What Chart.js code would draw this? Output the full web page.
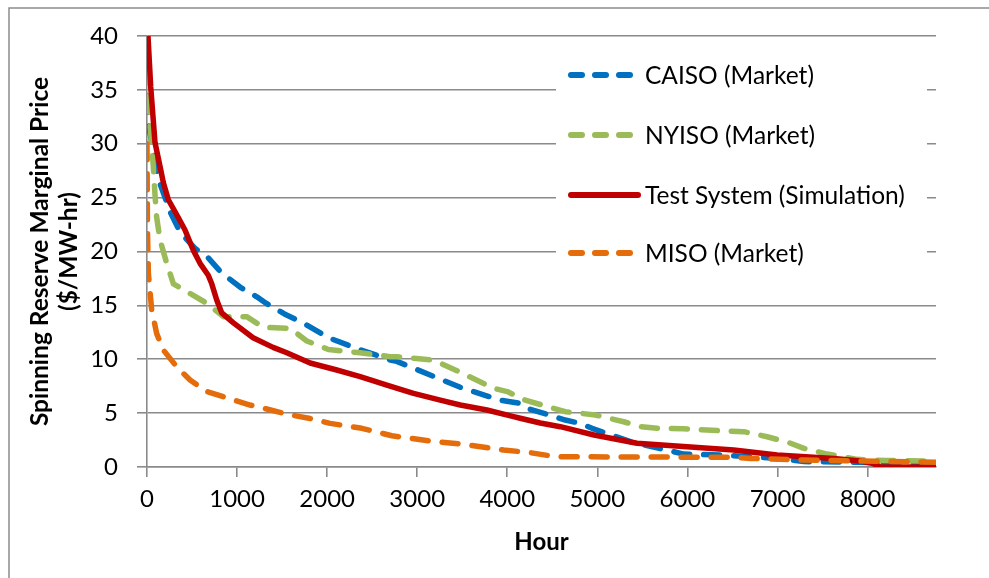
<!DOCTYPE html>
<html>
<head>
<meta charset="utf-8">
<script src="https://cdn.jsdelivr.net/npm/chart.js@4/dist/chart.umd.min.js"></script>
<style>
  html, body { margin: 0; padding: 0; background: #fff; }
  #wrap { width: 989px; height: 578px; position: relative; }
</style>
</head>
<body>
<div id="wrap"><canvas id="c" width="989" height="578"></canvas></div>
<script>
// Spinning reserve price duration curves (hours sorted by price, $/MW-hr)
const caisoHours = [0, 3, 15, 26, 107, 144, 256, 367, 533, 681, 830, 1033, 1219, 1322, 1526, 1748, 2015, 2330, 2700, 2774, 3144, 3478, 3922, 4144, 4219, 4644, 4811, 4941, 5367, 5600, 5959, 6400, 7000, 7293, 7810, 8760];
const caisoPrice = [40, 35.9, 33.4, 31.3, 27.6, 26.3, 23.7, 21.8, 20.3, 19.4, 18.0, 16.7, 15.8, 15.2, 14.2, 13.3, 12.0, 11.0, 9.93, 9.8, 8.54, 7.4, 6.2, 5.9, 5.45, 4.36, 4.05, 3.59, 2.35, 1.9, 1.2, 1.1, 0.8, 0.5, 0.45, 0.35];

const nyisoHours = [0, 15, 26, 52, 70, 90, 107, 144, 219, 293, 478, 663, 848, 1107, 1293, 1589, 1774, 2015, 2367, 2700, 2774, 3181, 3441, 3848, 4000, 4200, 4644, 4978, 5293, 5478, 5663, 5959, 6367, 6626, 6885, 7126, 7293, 7552, 7885, 8200, 8760];
const nyisoPrice = [40, 36, 32.8, 29.7, 27.9, 25.1, 23.2, 21.1, 18.9, 17.0, 16.1, 15.2, 13.95, 13.95, 12.96, 12.87, 11.7, 10.9, 10.6, 10.24, 10.24, 9.93, 8.94, 7.3, 7.0, 6.2, 5.13, 4.83, 4.2, 3.74, 3.6, 3.55, 3.37, 3.28, 2.81, 2.26, 1.73, 1.2, 0.71, 0.6, 0.55];

const testHours = [0, 11, 41, 89, 152, 181, 237, 344, 422, 515, 589, 680, 719, 774, 830, 956, 1178, 1400, 1552, 1811, 2107, 2367, 2663, 2959, 3256, 3478, 3774, 4070, 4144, 4367, 4589, 4963, 5441, 5996, 6515, 6996, 7626, 7922, 8050, 8144, 8760];
const testPrice = [42, 40, 35.3, 30.1, 27.6, 26.4, 24.8, 23.2, 22.0, 20.1, 18.9, 17.8, 17.0, 15.5, 14.3, 13.4, 12.0, 11.1, 10.6, 9.65, 9.0, 8.38, 7.6, 6.84, 6.2, 5.75, 5.29, 4.67, 4.52, 4.08, 3.74, 2.97, 2.2, 1.89, 1.58, 1.11, 0.8, 0.55, 0.35, 0.02, 0];

const misoHours = [0, 5, 15, 52, 107, 181, 330, 478, 663, 904, 1144, 1330, 1552, 1811, 2033, 2385, 2719, 3144, 3515, 3959, 4256, 4500, 4626, 6500, 6700, 7300, 7900, 8760];
const misoPrice = [30, 22, 18.0, 14.6, 12.4, 10.86, 9.3, 8.07, 7.0, 6.37, 5.75, 5.38, 4.9, 4.5, 4.05, 3.59, 2.9, 2.41, 2.1, 1.58, 1.33, 1.0, 0.95, 0.9, 0.8, 0.65, 0.55, 0.45];

const xTicks = [0, 1000, 2000, 3000, 4000, 5000, 6000, 7000, 8000];
const yTicks = [0, 5, 10, 15, 20, 25, 30, 35, 40];

const seriesNames = ['CAISO (Market)', 'NYISO (Market)', 'Test System (Simulation)', 'MISO (Market)'];

const pts = (hs, ps) => hs.map((h, i) => ({ x: h, y: ps[i] }));

const GRID = '#8a8a8a';
const FONT = 'Lato, "Open Sans", sans-serif';
Chart.defaults.font.family = FONT;
Chart.defaults.color = '#000';

const dashed = { borderDash: [16, 14], borderCapStyle: 'round', borderJoinStyle: 'round', borderWidth: 5.5 };

const datasets = [
  Object.assign({ label: seriesNames[0], data: pts(caisoHours, caisoPrice), borderColor: '#0070c0', order: 3 }, dashed),
  Object.assign({ label: seriesNames[1], data: pts(nyisoHours, nyisoPrice), borderColor: '#9bbb59', order: 2 }, dashed),
  { label: seriesNames[2], data: pts(testHours, testPrice), borderColor: '#c00000', borderWidth: 5.5,
    borderCapStyle: 'round', borderJoinStyle: 'round', order: 1 },
  Object.assign({ label: seriesNames[3], data: pts(misoHours, misoPrice), borderColor: '#e46c0a', order: 0 }, dashed)
];

// Outer frame of the chart object
const framePlugin = {
  id: 'frame',
  beforeDraw(chart) {
    const ctx = chart.ctx;
    ctx.save();
    ctx.fillStyle = '#fff';
    ctx.fillRect(0, 0, chart.width, chart.height);
    ctx.strokeStyle = '#8c8c8c';
    ctx.lineWidth = 1.5;
    ctx.strokeRect(9, 8, 1100, 700);
    ctx.restore();
  }
};

// Legend panel inside the plot area
const legendPanel = {
  id: 'legendPanel',
  afterDatasetsDraw(chart) {
    const ctx = chart.ctx;
    ctx.save();
    ctx.fillStyle = '#fff';
    ctx.fillRect(556, 46, 371, 236);
    const rows = [75, 135, 195, 253];
    chart.data.datasets.forEach((ds, i) => {
      const y = rows[i];
      ctx.strokeStyle = ds.borderColor;
      ctx.lineWidth = 6;
      ctx.lineCap = 'round';
      ctx.beginPath();
      if (ds.borderDash) {
        ctx.setLineDash([11, 13]);
        ctx.moveTo(571, y);
        ctx.lineTo(632, y);
      } else {
        ctx.setLineDash([]);
        ctx.moveTo(571, y);
        ctx.lineTo(638, y);
      }
      ctx.stroke();
      ctx.setLineDash([]);
      ctx.fillStyle = '#000';
      ctx.font = '24.5px ' + FONT;
      ctx.textAlign = 'left';
      ctx.textBaseline = 'middle';
      ctx.fillText(ds.label, 645, y + 1);
    });
    ctx.restore();
  }
};

new Chart(document.getElementById('c'), {
  type: 'line',
  data: { datasets },
  plugins: [framePlugin, legendPanel],
  options: {
    responsive: false,
    animation: false,
    layout: { padding: { left: 0, top: 36, right: 53, bottom: 0 } },
    elements: { point: { radius: 0 }, line: { tension: 0 } },
    plugins: { legend: { display: false }, tooltip: { enabled: false } },
    scales: {
      x: {
        type: 'linear',
        min: 0, max: 8760,
        afterBuildTicks(scale) { scale.ticks = xTicks.map(v => ({ value: v })); },
        afterFit(scale) { scale.height = 111; },
        ticks: { font: { size: 24 }, padding: 8, maxRotation: 0, autoSkip: false, callback: v => String(v) },
        grid: { drawOnChartArea: false, drawTicks: true, tickLength: 10, color: GRID, lineWidth: 1.6 },
        border: { display: true, color: GRID, width: 1.6 },
        title: { display: true, text: 'Hour', font: { size: 24, weight: 'bold', lineHeight: 1.2 }, padding: { top: 0, bottom: 21 } }
      },
      y: {
        min: 0, max: 40,
        afterBuildTicks(scale) { scale.ticks = yTicks.map(v => ({ value: v })); },
        afterFit(scale) { scale.width = 147; },
        ticks: { font: { size: 24 }, padding: 19, callback: v => String(v) },
        grid: { drawOnChartArea: true, drawTicks: true, tickLength: 10, color: GRID, lineWidth: 1.6 },
        border: { display: true, color: GRID, width: 1.6 },
        title: { display: true, text: ['Spinning Reserve Marginal Price', '($/MW-hr)'], font: { size: 24.5, weight: 'bold', lineHeight: 1.18 }, padding: { top: 26, bottom: 0 } }
      }
    }
  }
});
</script>
</body>
</html>
